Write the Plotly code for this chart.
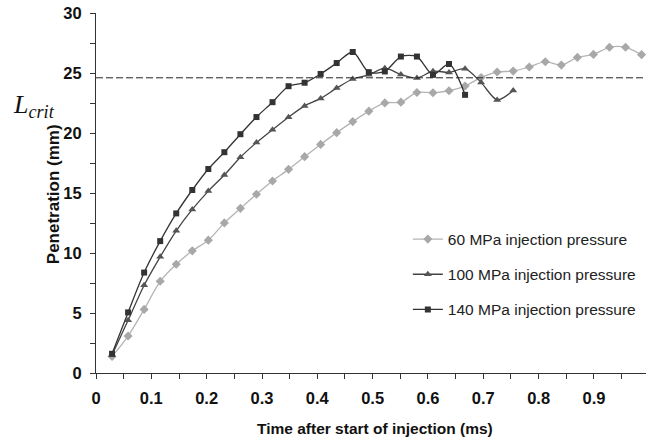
import plotly.graph_objects as go

# Time after start of injection (ms)
times = [0.029, 0.058, 0.087, 0.116, 0.145, 0.174, 0.203, 0.232, 0.261, 0.290,
         0.319, 0.348, 0.377, 0.406, 0.435, 0.464, 0.493, 0.522, 0.551, 0.580,
         0.609, 0.638, 0.667, 0.696, 0.725, 0.754, 0.783, 0.812, 0.841, 0.870,
         0.899, 0.928, 0.957, 0.986]

# Spray penetration (mm) for each injection pressure
pen_60 = [1.38, 3.08, 5.30, 7.64, 9.06, 10.18, 11.07, 12.51, 13.72, 14.90,
          16.00, 16.97, 18.03, 19.05, 20.03, 20.95, 21.82, 22.51, 22.57, 23.38,
          23.35, 23.52, 23.91, 24.63, 25.08, 25.16, 25.50, 25.94, 25.66, 26.30,
          26.55, 27.14, 27.14, 26.53]
pen_100 = [1.50, 4.39, 7.31, 9.68, 11.85, 13.63, 15.16, 16.50, 17.98, 19.20,
           20.28, 21.32, 22.26, 22.88, 23.74, 24.50, 24.85, 25.40, 24.88, 24.58,
           25.15, 25.05, 25.36, 24.20, 22.76, 23.54]
pen_140 = [1.60, 5.05, 8.37, 10.99, 13.30, 15.25, 17.00, 18.40, 19.90, 21.33,
           22.57, 23.90, 24.19, 24.92, 25.83, 26.75, 25.07, 25.13, 26.37, 26.37,
           24.85, 25.75, 23.18]

L_crit = 24.6

series_names = ["60 MPa injection pressure",
                "100 MPa injection pressure",
                "140 MPa injection pressure"]

x_ticks = [0, 0.1, 0.2, 0.3, 0.4, 0.5, 0.6, 0.7, 0.8, 0.9]
x_tick_text = ["0", "0.1", "0.2", "0.3", "0.4", "0.5", "0.6", "0.7", "0.8", "0.9"]
y_ticks = [0, 5, 10, 15, 20, 25, 30]

fig = go.Figure()

styles = [
    (pen_60, "#a8a8a8", "#b4b4b4", "diamond", 7),
    (pen_100, "#555555", "#444444", "triangle-up", 7),
    (pen_140, "#333333", "#333333", "square", 6),
]

for i, (vals, mcol, lcol, sym, size) in enumerate(styles):
    fig.add_trace(go.Scatter(
        x=times[:len(vals)], y=vals, name=series_names[i],
        mode="lines+markers", legendgroup=f"g{i}",
        line=dict(color=lcol, width=1.3, shape="spline", smoothing=0.8),
        marker=dict(symbol=sym, size=size, color=mcol, line=dict(width=0)),
    ))

# Critical length reference line
fig.add_shape(type="line", xref="paper", yref="y", x0=0, x1=1, y0=L_crit, y1=L_crit,
              line=dict(color="#222222", width=1, dash="7px,3px"))

fig.add_annotation(xref="paper", yref="paper", x=-0.155, y=0.742,
                   xanchor="left", yanchor="middle", showarrow=False,
                   text="<i>L<sub>crit</sub></i>",
                   font=dict(family="Liberation Serif, Times New Roman, serif",
                             size=26, color="#111111"))

fig.add_annotation(xref="paper", yref="paper", x=-0.078, y=0.497,
                   xanchor="center", yanchor="middle", showarrow=False,
                   textangle=-90, text="<b>Penetration (mm)</b>",
                   font=dict(family="Arial, Liberation Sans, sans-serif",
                             size=17, color="#111111"))

fig.add_annotation(xref="paper", yref="paper", x=0.508, y=-0.154,
                   xanchor="center", yanchor="middle", showarrow=False,
                   text="<b>Time after start of injection (ms)</b>",
                   font=dict(family="Arial, Liberation Sans, sans-serif",
                             size=15.5, color="#111111"))

axis_font = dict(family="Arial, Liberation Sans, sans-serif", size=16.5, color="#111111",
                 weight="bold")

fig.update_xaxes(range=[0, 0.994], tickvals=x_ticks, ticktext=x_tick_text,
                 showgrid=False, zeroline=False, showline=True,
                 linecolor="#333333", linewidth=1,
                 ticks="outside", ticklen=5, tickcolor="#333333",
                 tickfont=axis_font, ticklabelstandoff=5,
                 minor=dict(dtick=0.05, ticks="outside", ticklen=5,
                            tickcolor="#333333", showgrid=False))
fig.update_yaxes(range=[0, 30], tickvals=y_ticks,
                 showgrid=False, zeroline=False, showline=True,
                 linecolor="#333333", linewidth=1,
                 ticks="outside", ticklen=5, tickcolor="#333333",
                 tickfont=axis_font, ticklabelstandoff=5,
                 minor=dict(dtick=2.5, ticks="outside", ticklen=5,
                            tickcolor="#333333", showgrid=False))

fig.update_layout(
    width=646, height=441,
    margin=dict(l=96, r=0, t=13, b=68),
    paper_bgcolor="white", plot_bgcolor="white",
    showlegend=True,
    legend=dict(x=0.567, y=0.418, xanchor="left", yanchor="top",
                bgcolor="rgba(0,0,0,0)", traceorder="grouped",
                tracegroupgap=12, itemwidth=30,
                font=dict(family="Arial, Liberation Sans, sans-serif", size=15.5,
                          color="#222222")),
)

fig.write_html("out.html")
